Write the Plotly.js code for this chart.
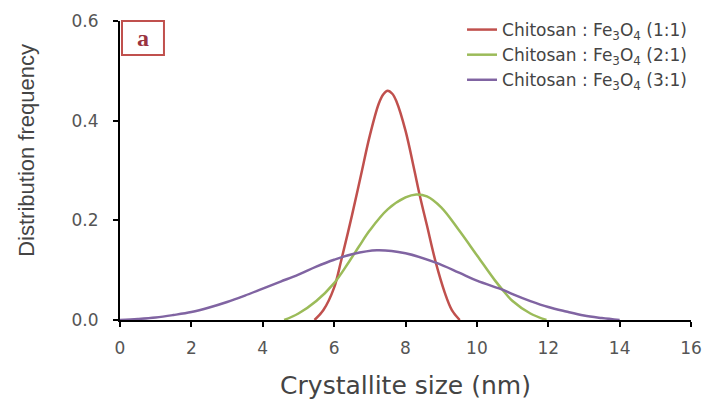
<!DOCTYPE html>
<html>
<head>
<meta charset="utf-8">
<script src="https://cdn.plot.ly/plotly-3.0.1.min.js"></script>
<style>
html,body{margin:0;padding:0;background:#fff;}
#chart{width:715px;height:401px;}
</style>
</head>
<body>
<div id="chart"></div>
<script>
// Series names
var seriesNames = [
  "Chitosan : Fe<sub>3</sub>O<sub>4</sub> (1:1)",
  "Chitosan : Fe<sub>3</sub>O<sub>4</sub> (2:1)",
  "Chitosan : Fe<sub>3</sub>O<sub>4</sub> (3:1)"
];

// Chitosan : Fe3O4 (1:1)
var x11 = [5.45, 5.7, 6.0, 6.2, 6.5, 6.75, 7.0, 7.25, 7.38, 7.5, 7.63, 7.75, 8.0, 8.25, 8.4, 8.6, 8.85, 9.1, 9.3, 9.52];
var y11 = [0.0, 0.02, 0.065, 0.12, 0.21, 0.29, 0.37, 0.434, 0.453, 0.46, 0.454, 0.438, 0.38, 0.30, 0.25, 0.19, 0.115, 0.055, 0.02, 0.0];

// Chitosan : Fe3O4 (2:1)
var x21 = [4.6, 5.0, 5.5, 6.0, 6.4, 6.7, 7.0, 7.5, 8.0, 8.3, 8.6, 9.0, 9.5, 10.0, 10.5, 10.75, 11.0, 11.5, 11.95];
var y21 = [0.0, 0.013, 0.038, 0.074, 0.115, 0.148, 0.18, 0.222, 0.246, 0.252, 0.248, 0.226, 0.18, 0.13, 0.08, 0.058, 0.038, 0.013, 0.0];

// Chitosan : Fe3O4 (3:1)
var x31 = [0, 0.5, 1, 1.5, 2, 2.5, 3, 3.5, 4, 4.5, 5, 5.5, 6, 6.5, 7.2, 8, 8.85, 9.5, 10, 10.75, 11, 11.5, 12, 12.5, 13, 13.5, 14];
var y31 = [0.0, 0.002, 0.005, 0.01, 0.016, 0.025, 0.036, 0.049, 0.063, 0.077, 0.091, 0.107, 0.121, 0.132, 0.14, 0.134, 0.115, 0.095, 0.079, 0.06, 0.052, 0.038, 0.026, 0.017, 0.009, 0.004, 0.0];

// Axis ticks
var xTicks = [0, 2, 4, 6, 8, 10, 12, 14, 16];
var yTicks = [0.0, 0.2, 0.4, 0.6];
var yTickText = ["0.0", "0.2", "0.4", "0.6"];

var colors = ["#c0504d", "#9bbb59", "#8064a2"];

function tr(x, y, i) {
  return {
    x: x, y: y, type: "scatter", mode: "lines", name: seriesNames[i],
    line: {color: colors[i], width: 2.5, shape: "spline", smoothing: 1},
    hoverinfo: "skip"
  };
}

var data = [tr(x11, y11, 0), tr(x21, y21, 1), tr(x31, y31, 2)];

var tickFont = {family: "DejaVu Sans, sans-serif", size: 17, color: "#555"};

var layout = {
  width: 715, height: 401,
  margin: {l: 120, r: 24, t: 21, b: 81},
  paper_bgcolor: "#fff", plot_bgcolor: "#fff",
  showlegend: true,
  legend: {
    x: 0.599, xanchor: "left", y: 1.03, yanchor: "top",
    bgcolor: "rgba(0,0,0,0)",
    font: {family: "DejaVu Sans, sans-serif", size: 17, color: "#444"},
    itemwidth: 30
  },
  xaxis: {
    range: [0, 16], tickvals: xTicks, ticktext: xTicks.map(String),
    showline: true, linecolor: "#000", linewidth: 2, mirror: false,
    ticks: "outside", ticklen: 5, tickwidth: 2, tickcolor: "#000",
    showgrid: false, zeroline: false, tickfont: tickFont,
    ticklabelstandoff: 7,
    title: {text: "Crystallite size (nm)", font: {family: "DejaVu Sans, sans-serif", size: 25, color: "#444"}, standoff: 19}
  },
  yaxis: {
    range: [0, 0.6], tickvals: yTicks, ticktext: yTickText,
    showline: true, linecolor: "#000", linewidth: 2,
    ticks: "outside", ticklen: 5, tickwidth: 2, tickcolor: "#000",
    showgrid: false, zeroline: false, tickfont: tickFont,
    ticklabelstandoff: 11
  },
  shapes: [{
    type: "rect", xref: "paper", yref: "paper",
    x0: 0.0035, x1: 0.077, y0: 0.886, y1: 1.0,
    line: {color: "#c0504d", width: 2}, fillcolor: "rgba(0,0,0,0)"
  }],
  annotations: [{
    text: "<b>a</b>", xref: "paper", yref: "paper", x: 0.040, y: 0.943,
    xanchor: "center", yanchor: "middle", showarrow: false,
    font: {family: "Liberation Serif, DejaVu Serif, serif", size: 24, color: "#9a3340"}
  }, {
    text: "Distribution frequency", xref: "paper", yref: "paper",
    x: -0.163, y: 0.569, xanchor: "center", yanchor: "middle", textangle: -90,
    showarrow: false,
    font: {family: "Liberation Sans, Arial, sans-serif", size: 22, color: "#444"}
  }]
};

Plotly.newPlot("chart", data, layout, {staticPlot: true, displayModeBar: false});
</script>
</body>
</html>
